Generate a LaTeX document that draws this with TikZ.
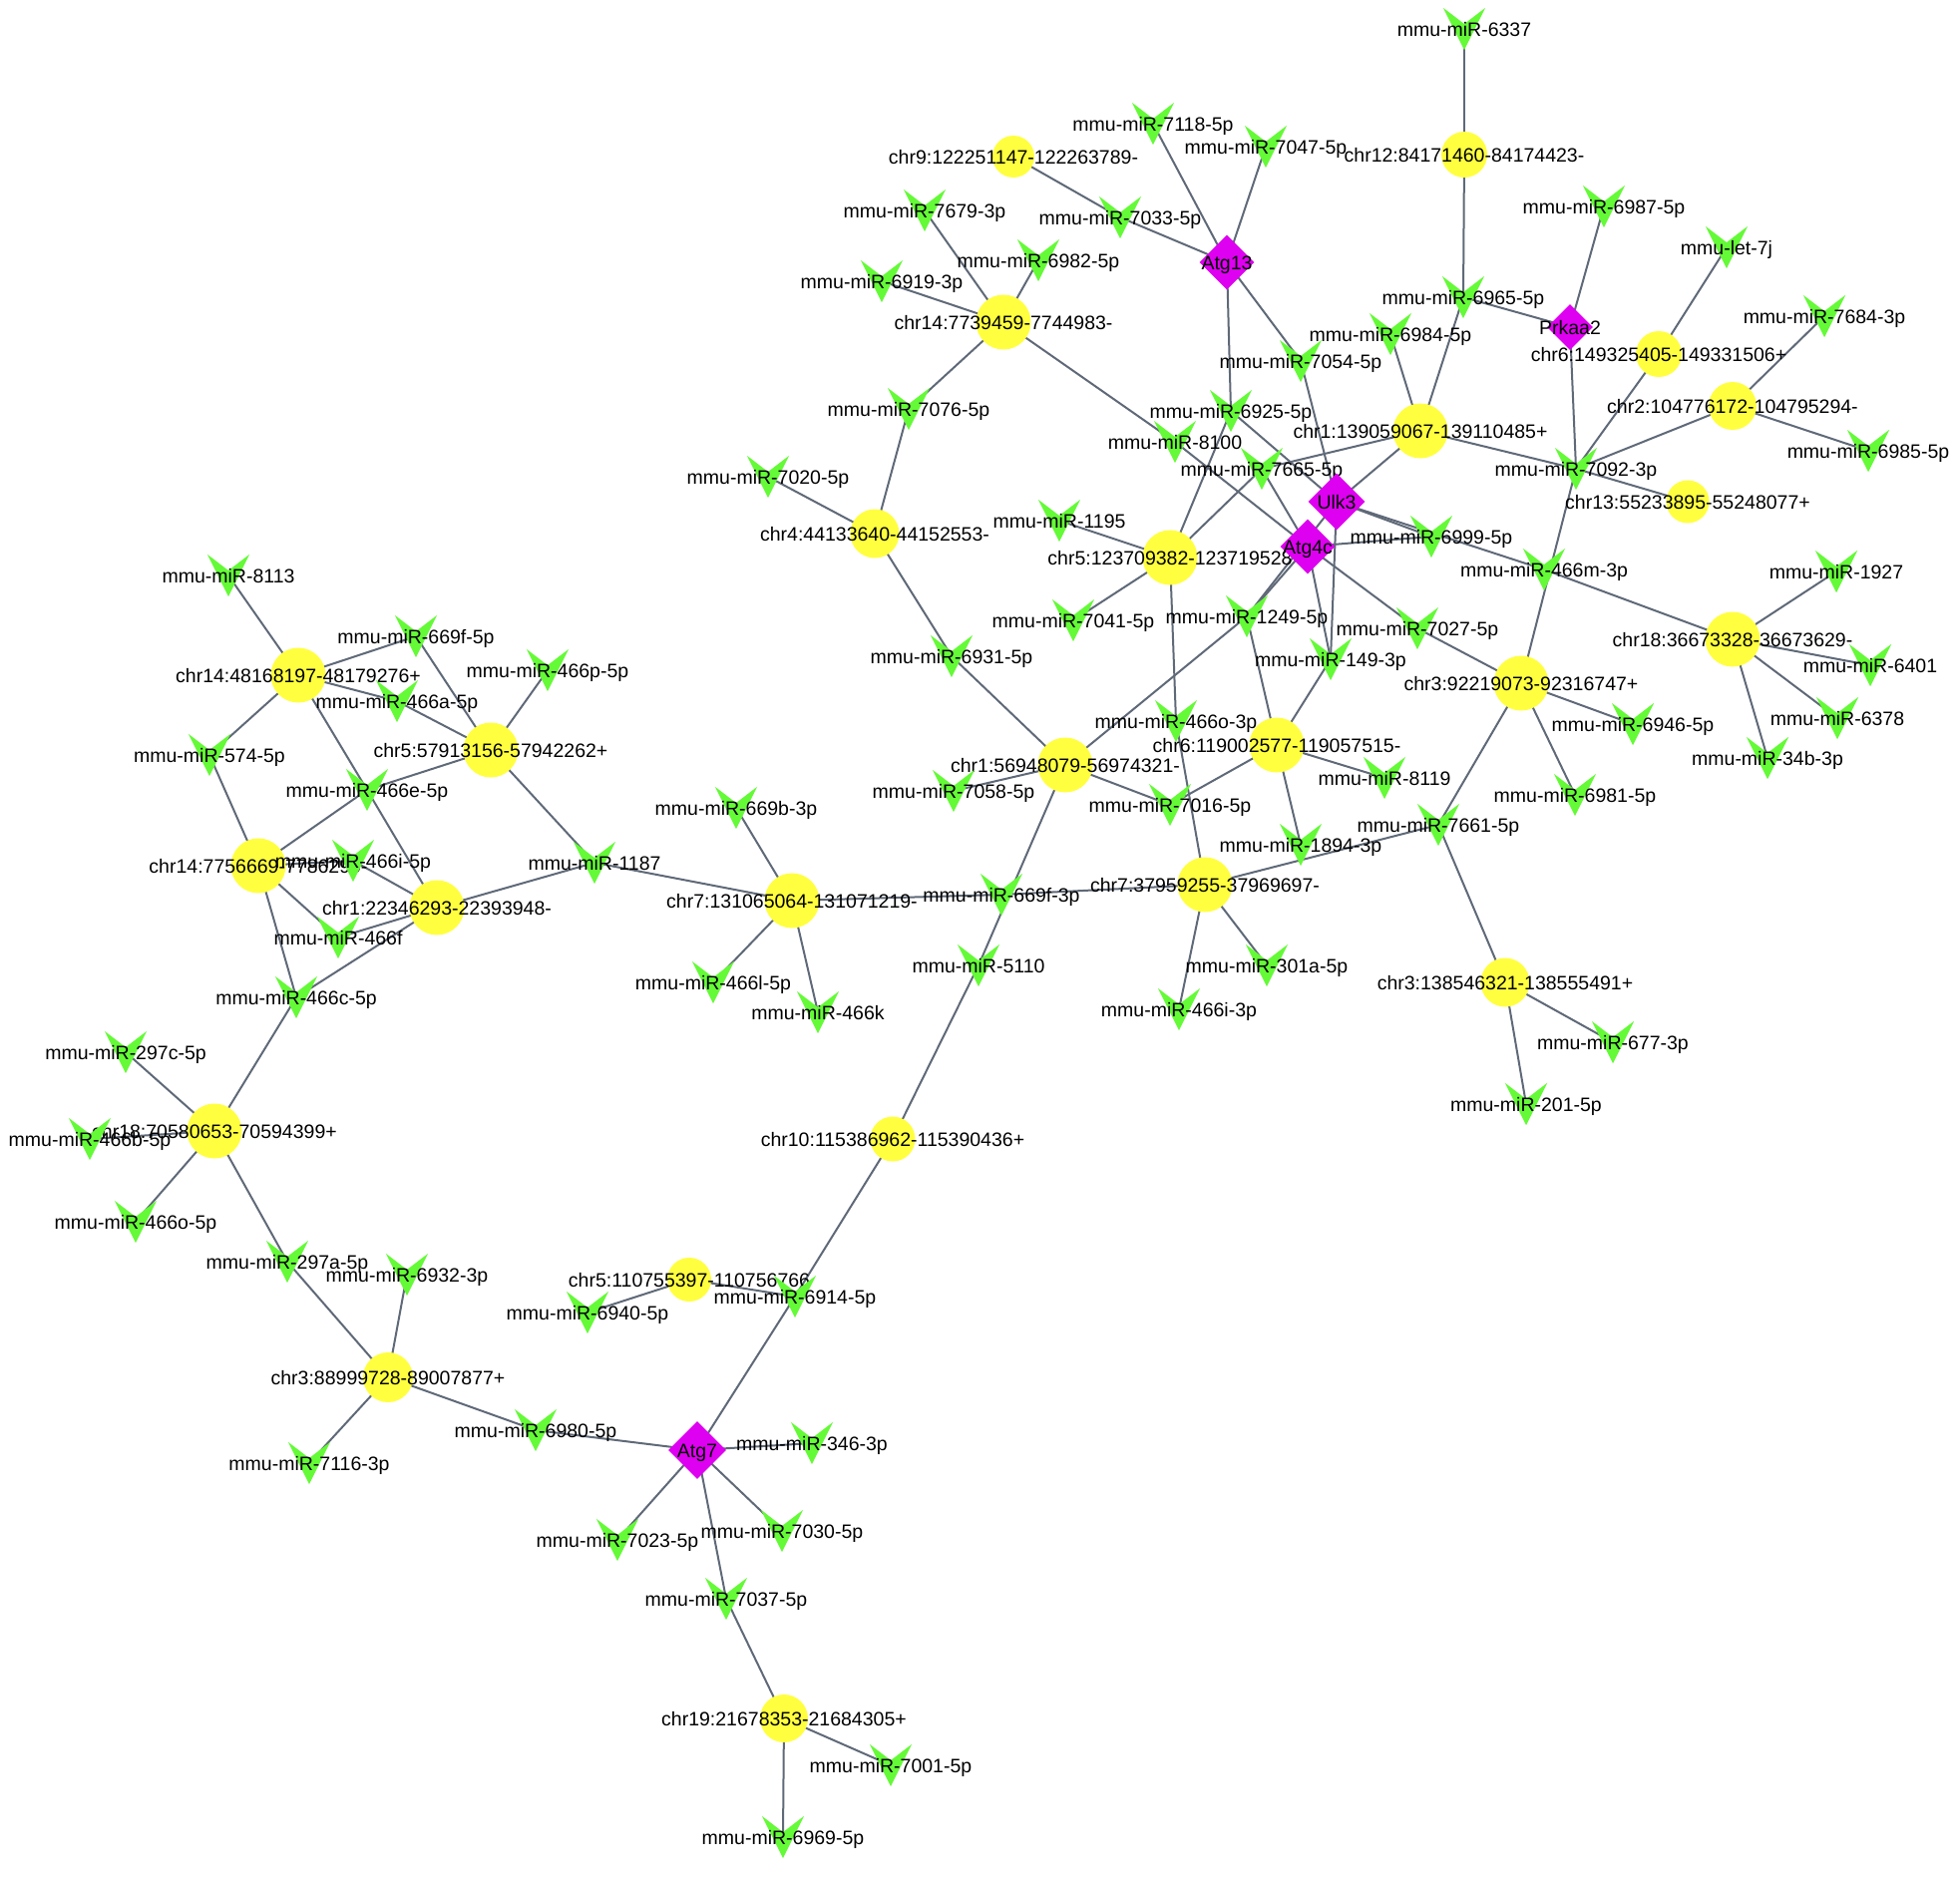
\documentclass[tikz,border=0pt]{standalone}
\usepackage{fontspec}
\setmainfont{Liberation Sans}
\usetikzlibrary{shapes.geometric,backgrounds}
\definecolor{lncyellow}{RGB}{255,255,64}
\definecolor{mirgreen}{RGB}{100,250,55}
\definecolor{genemag}{RGB}{222,0,240}
\definecolor{edgecol}{RGB}{95,105,120}
\newcommand\lblfont{\fontsize{19.5}{20}\selectfont}
\tikzset{
  lncnode/.style={circle,fill=lncyellow,inner sep=0pt},
  mirbox/.style={rectangle,inner sep=0pt,minimum size=42pt},
  genenode/.style={diamond,fill=genemag,inner sep=0pt,aspect=1},
  lbl/.style={inner sep=0pt,anchor=base,yshift=-7pt,font=\lblfont,text=black},
  edge/.style={draw=edgecol,line width=2pt}
}
\newcommand\lnc[4]{%
  \node[lncnode,minimum size=#3pt] (#1) at (#2) {};
  \node[lbl] (#1l) at (#1.center) {#4};}
\newcommand\mir[3]{%
  \node[mirbox] (#1) at (#2) {};
  \fill[mirgreen] (#1.north west) -- ([yshift=5pt]#1.center) -- (#1.north east) -- (#1.south) -- cycle;
  \node[lbl] (#1l) at (#1.center) {#3};}
\newcommand\gene[4]{%
  \node[genenode,minimum size=#3pt] (#1) at (#2) {};
  \node[lbl] (#1l) at (#1.center) {#4};}
\begin{document}
\begin{tikzpicture}[x=1pt,y=-1pt]
\useasboundingbox (0,0) rectangle (1965,1882);
% lncRNAs
\lnc{L14a}{1006,323}{55}{chr14:7739459-7744983-}
\lnc{L9}{1016,157}{42}{chr9:122251147-122263789-}
\lnc{L12}{1468,155}{46}{chr12:84171460-84174423-}
\lnc{L6b}{1663,355}{46}{chr6:149325405-149331506+}
\lnc{L2}{1737,407}{48}{chr2:104776172-104795294-}
\lnc{L1b}{1424,432}{55}{chr1:139059067-139110485+}
\lnc{L13}{1692,503}{43}{chr13:55233895-55248077+}
\lnc{L18b}{1737,641}{55}{chr18:36673328-36673629-}
\lnc{L3b}{1525,685}{55}{chr3:92219073-92316747+}
\lnc{L3c}{1509,985}{49}{chr3:138546321-138555491+}
\lnc{L6a}{1280,747}{55}{chr6:119002577-119057515-}
\lnc{L7b}{1208,887}{55}{chr7:37959255-37969697-}
\lnc{L5b}{1173,559}{55}{chr5:123709382-123719528}
\lnc{L1a}{1068,767}{55}{chr1:56948079-56974321-}
\lnc{L4}{877,535}{49}{chr4:44133640-44152553-}
\lnc{L7a}{794,903}{55}{chr7:131065064-131071219-}
\lnc{L10}{895,1142}{45}{chr10:115386962-115390436+}
\lnc{L5c}{691,1283}{44}{chr5:110755397-110756766}
\lnc{L18a}{215,1134}{55}{chr18:70580653-70594399+}
\lnc{L3a}{389,1381}{50}{chr3:88999728-89007877+}
\lnc{L14c}{259,868}{55}{chr14:7756669-7786290-}
\lnc{L1c}{438,910}{55}{chr1:22346293-22393948-}
\lnc{L14b}{299,677}{55}{chr14:48168197-48179276+}
\lnc{L5a}{492,752}{55}{chr5:57913156-57942262+}
\lnc{L19}{786,1723}{48}{chr19:21678353-21684305+}
% miRNAs
\mir{m7118}{1156,124}{mmu-miR-7118-5p}
\mir{m7047}{1269,147}{mmu-miR-7047-5p}
\mir{m7679}{927,211}{mmu-miR-7679-3p}
\mir{m7033}{1123,218}{mmu-miR-7033-5p}
\mir{m6982}{1041,261}{mmu-miR-6982-5p}
\mir{m6919}{884,282}{mmu-miR-6919-3p}
\mir{m7076}{911,410}{mmu-miR-7076-5p}
\mir{m6925}{1234,412}{mmu-miR-6925-5p}
\mir{m8100}{1178,443}{mmu-miR-8100}
\mir{m7665}{1265,470}{mmu-miR-7665-5p}
\mir{m7020}{770,478}{mmu-miR-7020-5p}
\mir{m6337}{1468,29}{mmu-miR-6337}
\mir{m6987}{1608,207}{mmu-miR-6987-5p}
\mir{mlet}{1731,248}{mmu-let-7j}
\mir{m6965}{1467,298}{mmu-miR-6965-5p}
\mir{m7684}{1829,317}{mmu-miR-7684-3p}
\mir{m6984}{1394,335}{mmu-miR-6984-5p}
\mir{m7054}{1304,362}{mmu-miR-7054-5p}
\mir{m6985}{1873,452}{mmu-miR-6985-5p}
\mir{m7092}{1580,470}{mmu-miR-7092-3p}
\mir{m6999}{1435,538}{mmu-miR-6999-5p}
\mir{m466m}{1548,571}{mmu-miR-466m-3p}
\mir{m1927}{1841,573}{mmu-miR-1927}
\mir{m7027}{1421,630}{mmu-miR-7027-5p}
\mir{m149}{1334,661}{mmu-miR-149-3p}
\mir{m6401}{1875,667}{mmu-miR-6401}
\mir{m6946}{1637,726}{mmu-miR-6946-5p}
\mir{m6378}{1842,720}{mmu-miR-6378}
\mir{m34b}{1772,760}{mmu-miR-34b-3p}
\mir{m8119}{1388,780}{mmu-miR-8119}
\mir{m6981}{1579,797}{mmu-miR-6981-5p}
\mir{m7661}{1442,827}{mmu-miR-7661-5p}
\mir{m1894}{1304,847}{mmu-miR-1894-3p}
\mir{m1195}{1062,522}{mmu-miR-1195}
\mir{m7041}{1076,622}{mmu-miR-7041-5p}
\mir{m1249}{1250,618}{mmu-miR-1249-5p}
\mir{m6931}{954,658}{mmu-miR-6931-5p}
\mir{m466oc}{1179,723}{mmu-miR-466o-3p}
\mir{m7058}{956,793}{mmu-miR-7058-5p}
\mir{m7016}{1173,807}{mmu-miR-7016-5p}
\mir{m669b}{738,810}{mmu-miR-669b-3p}
\mir{m669fc}{1004,897}{mmu-miR-669f-3p}
\mir{m5110}{981,968}{mmu-miR-5110}
\mir{m301a}{1270,968}{mmu-miR-301a-5p}
\mir{m466ic}{1182,1012}{mmu-miR-466i-3p}
\mir{m466l}{715,985}{mmu-miR-466l-5p}
\mir{m466k}{820,1015}{mmu-miR-466k}
\mir{m6914}{797,1300}{mmu-miR-6914-5p}
\mir{m6940}{589,1316}{mmu-miR-6940-5p}
\mir{m677}{1617,1045}{mmu-miR-677-3p}
\mir{m201}{1530,1107}{mmu-miR-201-5p}
\mir{m7116}{310,1467}{mmu-miR-7116-3p}
\mir{m6980}{537,1434}{mmu-miR-6980-5p}
\mir{m7023}{619,1544}{mmu-miR-7023-5p}
\mir{m346}{814,1447}{mmu-miR-346-3p}
\mir{m7030}{784,1535}{mmu-miR-7030-5p}
\mir{m7037}{728,1603}{mmu-miR-7037-5p}
\mir{m7001}{893,1770}{mmu-miR-7001-5p}
\mir{m6969}{785,1842}{mmu-miR-6969-5p}
\mir{m8113}{229,577}{mmu-miR-8113}
\mir{m669fe}{417,638}{mmu-miR-669f-5p}
\mir{m466p}{549,672}{mmu-miR-466p-5p}
\mir{m466a}{398,703}{mmu-miR-466a-5p}
\mir{m574}{210,757}{mmu-miR-574-5p}
\mir{m466e}{368,792}{mmu-miR-466e-5p}
\mir{m466ie}{354,863}{mmu-miR-466i-5p}
\mir{m1187}{596,865}{mmu-miR-1187}
\mir{m466f}{339,940}{mmu-miR-466f}
\mir{m466c}{297,1000}{mmu-miR-466c-5p}
\mir{m297c}{126,1055}{mmu-miR-297c-5p}
\mir{m466b}{90,1142}{mmu-miR-466b-5p}
\mir{m466oe}{136,1225}{mmu-miR-466o-5p}
\mir{m297a}{288,1265}{mmu-miR-297a-5p}
\mir{m6932}{408,1278}{mmu-miR-6932-3p}
% genes
\gene{Atg13}{1230,263}{55}{Atg13}
\gene{Ulk3}{1340,503}{57}{Ulk3}
\gene{Atg4c}{1311,548}{55}{Atg4c}
\gene{Prkaa2}{1574,328}{46}{Prkaa2}
\gene{Atg7}{699,1454}{58}{Atg7}
% edges
\begin{scope}[on background layer]
\foreach \a/\b in {Atg13/m7118,Atg13/m7047,Atg13/m7033,L9/m7033,Atg13/m6925,Atg13/m7054,m7054/Ulk3,
 L14a/m7679,L14a/m6982,L14a/m6919,L14a/m7076,L14a/m8100,m8100/Atg4c,
 L12/m6337,L12/m6965,m6965/Prkaa2,m6965/L1b,Prkaa2/m6987,Prkaa2/m7092,mlet/L6b,L6b/m7092,
 L2/m7684,L2/m6985,L2/m7092,L1b/m6984,L1b/m7092,L1b/m7665,L1b/Ulk3,m7092/L13,m7092/L3b,
 Ulk3/m466m,m466m/L18b,Ulk3/m6999,Atg4c/m6999,Ulk3/m149,Atg4c/m149,Atg4c/m7027,Atg4c/m1249,Ulk3/m1249,
 Atg4c/m7665,Ulk3/m6925,
 L18b/m1927,L18b/m6401,L18b/m6378,L18b/m34b,
 L3b/m7027,L3b/m6946,L3b/m6981,L3b/m7661,m7661/L3c,m7661/L7b,L3c/m677,L3c/m201,
 L6a/m1249,L6a/m149,L6a/m7016,L6a/m8119,L6a/m1894,
 L7b/m669fc,L7b/m466oc,L7b/m301a,L7b/m466ic,
 L5b/m1195,L5b/m7041,L5b/m466oc,L5b/m6925,L5b/m7665,
 L1a/m6931,L1a/m7058,L1a/m7016,L1a/m1249,L1a/m5110,
 L4/m7020,L4/m7076,L4/m6931,
 L7a/m1187,L7a/m669b,L7a/m466l,L7a/m466k,L7a/m669fc,
 L10/m5110,L10/m6914,L5c/m6914,L5c/m6940,
 Atg7/m6914,Atg7/m6980,Atg7/m346,Atg7/m7023,Atg7/m7030,Atg7/m7037,
 L3a/m6980,L3a/m7116,L3a/m6932,L3a/m297a,
 L18a/m297a,L18a/m466oe,L18a/m466b,L18a/m297c,L18a/m466c,
 m466c/L14c,m466c/L1c,
 L14c/m574,L14c/m466e,L14c/m466f,L14c/m466ie,
 L1c/m466f,L1c/m466ie,L1c/m466e,L1c/m1187,
 L14b/m8113,L14b/m669fe,L14b/m466a,L14b/m574,L14b/m466e,
 L5a/m669fe,L5a/m466a,L5a/m466p,L5a/m466e,L5a/m1187,
 L19/m7037,L19/m7001,L19/m6969}
  \draw[edge] (\a.center) -- (\b.center);
\end{scope}
\end{tikzpicture}
\end{document}
